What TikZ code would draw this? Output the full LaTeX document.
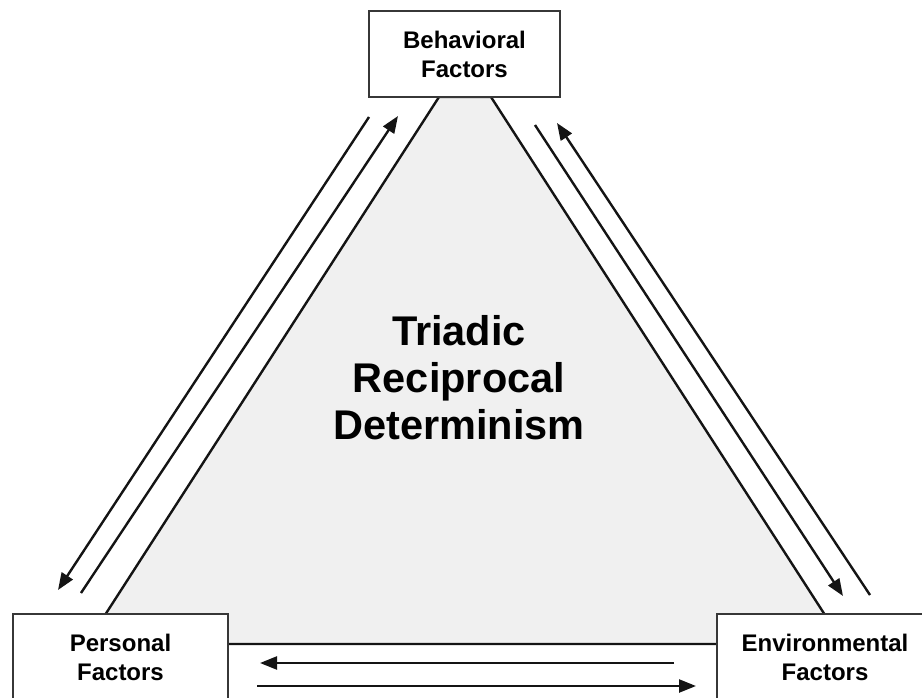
\documentclass[tikz,border=0pt]{standalone}
\usepackage{fontspec}
\setmainfont{Liberation Sans}
\usetikzlibrary{arrows.meta}
\definecolor{trifill}{RGB}{240,240,240}
\definecolor{lineclr}{RGB}{20,20,20}
\definecolor{boxclr}{RGB}{55,55,55}
\begin{document}
\begin{tikzpicture}[x=1pt,y=-1pt,
  factorbox/.style={draw=boxclr, line width=1.5pt, fill=white, rectangle,
    minimum width=#1, minimum height=86pt, inner sep=0pt, align=center,
    font=\fontsize{24}{29}\selectfont\bfseries},
  factorbox/.default=215pt,
  arr/.style={draw=lineclr, line width=2.4pt, -{Triangle[length=17pt,width=13pt]}},
  edge/.style={draw=lineclr, line width=2.4pt}]
\useasboundingbox (0,0) rectangle (922,698);
\clip (0,0) rectangle (922,698);
% triangle
\path[edge, fill=trifill] (439,97) -- (491,97) -- (825,615) -- (825,644) -- (105,644) -- (105,615) -- cycle;
% boxes
\node[factorbox=191pt] (beh) at (464.5,54) {Behavioral\\Factors};
\node[factorbox=215pt] (per) at (120.5,657) {Personal\\Factors};
\node[factorbox=216pt] (env) at (825,657) {Environmental\\Factors};
% centre text
\node[align=center, font=\fontsize{41.5}{47}\selectfont\bfseries] (title) at (459,378) {Triadic\\Reciprocal\\Determinism};
% arrow end points
\coordinate (lo1) at (369,117); \coordinate (lo2) at (58,590);
\coordinate (li1) at (81,593);  \coordinate (li2) at (398,116);
\coordinate (ri1) at (535,125); \coordinate (ri2) at (843,596);
\coordinate (ro1) at (870,595); \coordinate (ro2) at (557,123);
\coordinate (bu1) at (674,663); \coordinate (bu2) at (260,663);
\coordinate (bl1) at (257,686); \coordinate (bl2) at (696,686);
\draw[arr] (lo1) -- (lo2);
\draw[arr] (li1) -- (li2);
\draw[arr] (ri1) -- (ri2);
\draw[arr] (ro1) -- (ro2);
\draw[arr] (bu1) -- (bu2);
\draw[arr] (bl1) -- (bl2);
\end{tikzpicture}
\end{document}
